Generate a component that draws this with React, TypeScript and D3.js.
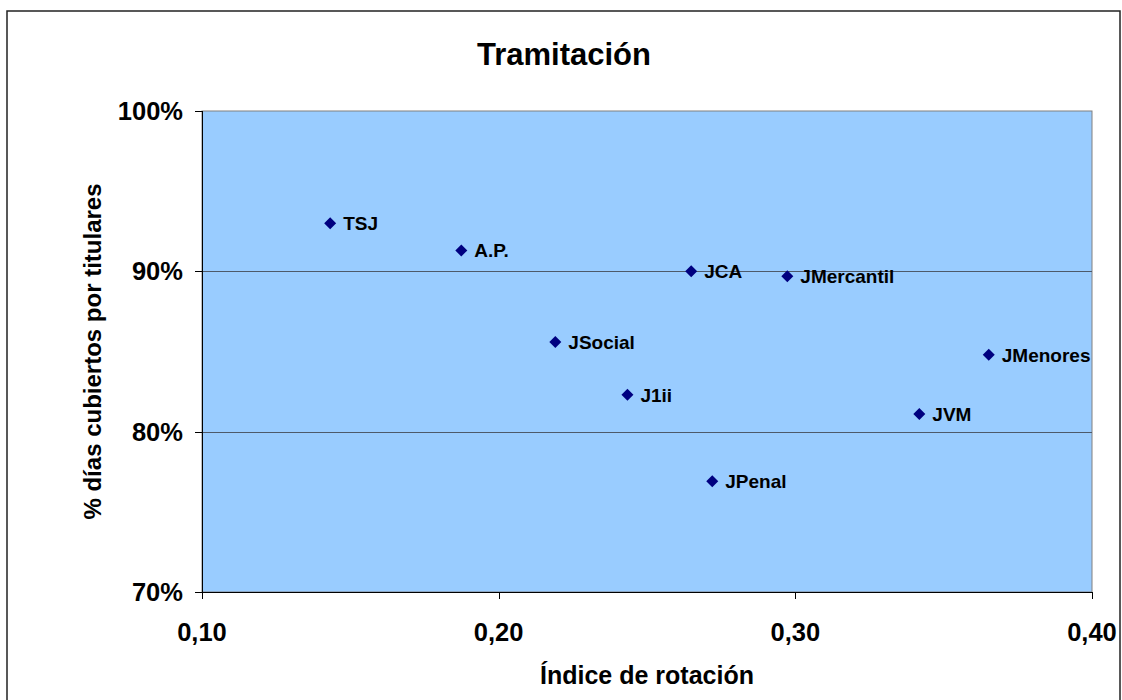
import React from "react";
import * as d3 from "d3";

const categories = ["TSJ", "A.P.", "JCA", "JMercantil", "JSocial", "J1ii", "JPenal", "JMenores", "JVM"];
const rotationIndex = [0.1432, 0.1874, 0.2649, 0.2973, 0.2191, 0.2434, 0.272, 0.3652, 0.3418];
const coveredPct = [93.0, 91.3, 90.0, 89.7, 85.6, 82.3, 76.9, 84.8, 81.1];
const xTicks = [0.1, 0.2, 0.3, 0.4];
const yTicks = [70, 80, 90, 100];

const W = 1122;
const H = 700;
const plot = { left: 202, top: 111, right: 1092, bottom: 592 };
const FONT = "'Liberation Sans', Arial, sans-serif";

export default function App() {
  const x = d3.scaleLinear().domain([0.1, 0.4]).range([plot.left, plot.right]);
  const y = d3.scaleLinear().domain([70, 100]).range([plot.bottom, plot.top]);
  const fmtX = (v: number) => d3.format(".2f")(v).replace(".", ",");
  const r = 6;
  const diamond = `M0,${-r}L${r},0L0,${r}L${-r},0Z`;

  return (
    <svg width={W} height={H} style={{ position: "fixed", left: 0, top: 0, background: "#fff" }} fontFamily={FONT}>
      <rect x={7} y={11} width={1113} height={720} fill="#fff" stroke="#222" strokeWidth={1.5} />
      <text x={564} y={65} textAnchor="middle" fontWeight="bold" fontSize={31}>Tramitación</text>
      <rect x={plot.left} y={plot.top} width={plot.right - plot.left} height={plot.bottom - plot.top} fill="#99CCFF" stroke="#808080" strokeWidth={1} />
      {yTicks.filter((t) => t !== 70 && t !== 100).map((t) => (
        <line key={t} x1={plot.left} x2={plot.right} y1={Math.round(y(t)) + 0.5} y2={Math.round(y(t)) + 0.5} stroke="#4d5a6a" strokeWidth={1} />
      ))}
      <line x1={plot.left + 0.5} x2={plot.left + 0.5} y1={plot.top} y2={plot.bottom} stroke="#000" />
      <line x1={plot.left} x2={plot.right} y1={plot.bottom + 0.5} y2={plot.bottom + 0.5} stroke="#000" />
      {yTicks.map((t) => (
        <g key={t}>
          <line x1={plot.left - 7} x2={plot.left} y1={Math.round(y(t)) + 0.5} y2={Math.round(y(t)) + 0.5} stroke="#000" />
          <text x={183} y={y(t) + 9} textAnchor="end" fontWeight="bold" fontSize={25.5}>{t}%</text>
        </g>
      ))}
      {xTicks.map((t) => (
        <g key={t}>
          <line x1={Math.round(x(t)) + 0.5} x2={Math.round(x(t)) + 0.5} y1={plot.bottom} y2={plot.bottom + 7} stroke="#000" />
          <text x={x(t)} y={641} textAnchor="middle" fontWeight="bold" fontSize={25.5}>{fmtX(t)}</text>
        </g>
      ))}
      <text x={647} y={684} textAnchor="middle" fontWeight="bold" fontSize={25}>Índice de rotación</text>
      <text transform={`translate(101,${(plot.top + plot.bottom) / 2}) rotate(-90)`} textAnchor="middle" fontWeight="bold" fontSize={24}>% días cubiertos por titulares</text>
      {categories.map((c, i) => (
        <g key={c} transform={`translate(${x(rotationIndex[i])},${y(coveredPct[i])})`}>
          <path d={diamond} fill="#000080" />
          <text x={13} y={7} fontWeight="bold" fontSize={19}>{c}</text>
        </g>
      ))}
    </svg>
  );
}
